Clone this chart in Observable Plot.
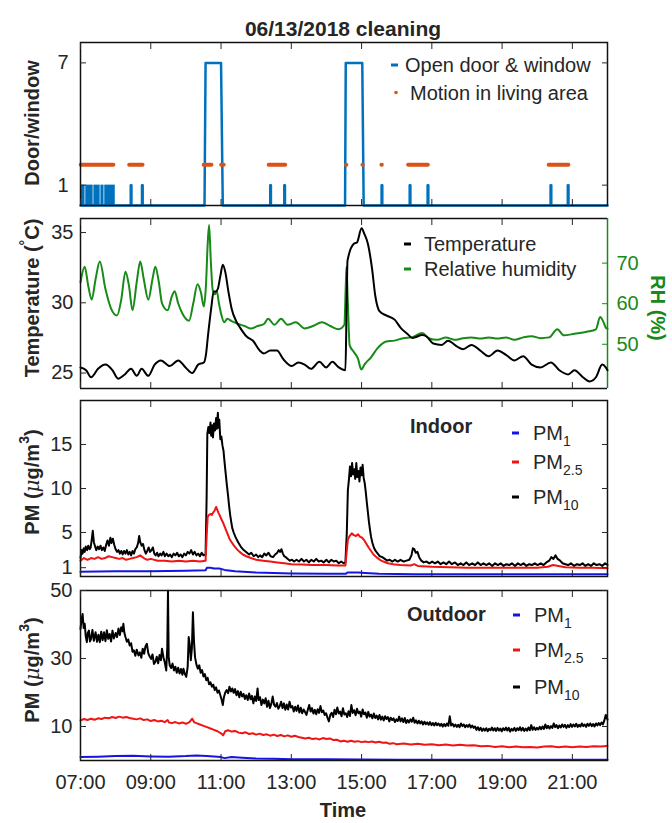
<!DOCTYPE html>
<html><head><meta charset="utf-8">
<script src="https://cdn.jsdelivr.net/npm/d3@7"></script>
<script src="https://cdn.jsdelivr.net/npm/@observablehq/plot@0.6"></script>
<style>
html,body{margin:0;padding:0;background:#fff;}
#chart{position:relative;width:672px;height:823px;font-family:"Liberation Sans",Arial,sans-serif;}
#chart svg{position:absolute;left:0;overflow:visible;}
</style></head><body><div id="chart"></div>
<script>
// ---------- data ----------
const timeTicks = [7, 9, 11, 13, 15, 17, 19, 21];
const timeLabels = ["07:00","09:00","11:00","13:00","15:00","17:00","19:00","21:00"];
const doorTicks = [1, 7];
const tempTicks = [25, 30, 35];
const rhTicks = [50, 60, 70];
const indoorTicks = [1, 5, 10, 15];
const outdoorTicks = [10, 30, 50];

// door/window: dense bursts of open/close (start, end, level)
const doorBursts = [[7.00,7.13,1],[7.15,7.36,1],[7.38,7.56,1],[7.58,7.67,1],[7.69,7.99,1]];
// single openings (rise start, rise end, fall start, fall end, level)
const doorPulses = [[8.43,8.43,8.45,8.45,1],[8.75,8.75,8.77,8.77,1],[10.53,10.56,11.00,11.05,7],
  [12.40,12.40,12.42,12.42,1],[12.80,12.80,12.82,12.82,1],[14.53,14.55,15.02,15.06,7],
  [15.57,15.57,15.59,15.59,1],[16.37,16.37,16.39,16.39,1],[16.88,16.88,16.90,16.90,1],
  [20.38,20.38,20.40,20.40,1],[20.87,20.87,20.89,20.89,1]];
const motionLevel = 2;
const motionRanges = [[7.02,7.95],[8.40,8.78],[10.52,10.74],[11.02,11.09],[12.37,12.84],
  [14.57,14.58],[15.04,15.05],[15.58,15.59],[16.34,16.90],[20.34,20.90]];

const temperature = [[7.00,25.4],[7.16,25.2],[7.30,24.7],[7.50,25.3],[7.71,25.6],[7.91,25.2],[8.07,24.6],[8.26,24.9],[8.44,25.3],[8.60,24.8],[8.74,25.3],[8.93,24.8],[9.11,25.6],[9.29,25.9],[9.54,25.5],[9.78,25.9],[9.99,25.4],[10.18,25.0],[10.35,25.6],[10.51,25.75],[10.57,26.3],[10.63,27.7],[10.72,29.6],[10.79,30.8],[10.85,30.8],[10.91,31.0],[10.98,31.9],[11.05,32.7],[11.12,32.2],[11.21,30.8],[11.30,29.6],[11.43,28.7],[11.55,28.2],[11.73,27.6],[11.91,27.3],[12.10,26.6],[12.22,26.4],[12.40,26.6],[12.59,26.6],[12.77,26.0],[13.01,25.5],[13.20,25.75],[13.38,25.6],[13.56,25.3],[13.80,25.8],[13.99,25.4],[14.17,25.8],[14.35,25.4],[14.54,25.2],[14.57,29.0],[14.60,33.0],[14.78,34.2],[14.87,34.3],[15.00,35.3],[15.08,34.9],[15.18,34.2],[15.30,32.4],[15.39,30.5],[15.51,29.4],[15.70,29.1],[15.94,28.8],[16.12,28.2],[16.30,27.8],[16.45,27.5],[16.73,27.7],[16.85,27.6],[17.04,27.1],[17.28,27.0],[17.46,27.3],[17.71,26.9],[17.89,26.7],[18.13,27.0],[18.38,26.6],[18.62,26.2],[18.87,26.6],[19.11,26.3],[19.35,25.9],[19.60,26.2],[19.84,25.6],[20.09,25.4],[20.39,25.75],[20.63,25.2],[20.88,24.9],[21.06,25.2],[21.30,24.7],[21.49,24.4],[21.67,24.7],[21.85,25.6],[21.95,25.4],[22.00,25.2]];

const humidity = [[7.00,65.3],[7.12,69.1],[7.22,64.4],[7.32,61.0],[7.43,66.1],[7.55,70.4],[7.71,63.6],[7.87,58.8],[8.04,57.1],[8.16,61.0],[8.28,67.9],[8.38,64.4],[8.48,58.4],[8.60,65.3],[8.70,70.4],[8.80,66.1],[8.93,61.0],[9.05,66.1],[9.13,69.1],[9.23,65.3],[9.32,60.1],[9.48,58.4],[9.60,61.8],[9.68,63.1],[9.78,60.1],[9.90,57.6],[10.09,55.8],[10.21,60.1],[10.33,64.8],[10.43,62.7],[10.51,59.3],[10.57,64.4],[10.62,74.7],[10.66,79.4],[10.71,70.4],[10.76,63.6],[10.82,62.3],[10.88,63.1],[10.94,60.1],[11.00,57.6],[11.09,55.4],[11.18,56.3],[11.30,55.7],[11.49,55.0],[11.67,54.5],[11.85,53.9],[12.04,54.5],[12.22,55.0],[12.34,56.3],[12.52,54.8],[12.71,56.3],[12.89,54.8],[13.13,55.4],[13.38,53.9],[13.62,54.5],[13.87,55.4],[14.11,54.5],[14.35,53.7],[14.51,54.8],[14.55,64.4],[14.57,69.1],[14.61,60.1],[14.66,49.8],[14.78,48.1],[14.90,46.4],[14.99,43.8],[15.09,45.1],[15.27,46.8],[15.45,49.0],[15.70,50.7],[15.94,50.9],[16.18,51.5],[16.43,51.7],[16.73,52.8],[16.91,51.5],[17.16,51.1],[17.40,51.7],[17.65,51.1],[17.89,51.5],[18.13,51.7],[18.38,51.4],[18.62,51.7],[18.87,51.4],[19.11,51.7],[19.35,51.1],[19.60,51.7],[19.84,52.0],[20.09,51.5],[20.34,51.7],[20.57,53.7],[20.76,52.2],[21.06,52.6],[21.41,53.1],[21.67,53.7],[21.79,56.7],[21.89,55.4],[21.95,54.1],[22.00,53.8]];

const indoorPM10 = [[7.00,2.1],[7.03,3.0],[7.06,2.6],[7.09,3.2],[7.12,2.8],[7.15,3.4],[7.19,3.0],[7.22,3.5],[7.26,3.1],[7.29,3.3],[7.32,4.2],[7.35,5.2],[7.38,3.9],[7.41,3.5],[7.45,3.0],[7.49,3.4],[7.53,3.1],[7.57,3.5],[7.61,3.0],[7.65,3.3],[7.69,2.9],[7.73,3.6],[7.77,4.1],[7.81,3.5],[7.85,4.4],[7.88,3.8],[7.92,4.3],[7.96,3.6],[8.00,3.1],[8.04,2.8],[8.08,3.0],[8.12,2.6],[8.16,2.9],[8.20,2.5],[8.24,2.9],[8.28,2.6],[8.32,3.0],[8.36,2.5],[8.40,2.8],[8.44,2.4],[8.48,2.9],[8.52,2.6],[8.56,3.1],[8.60,3.3],[8.64,3.8],[8.67,4.6],[8.70,3.9],[8.74,3.5],[8.78,3.7],[8.82,3.0],[8.86,2.6],[8.90,2.9],[8.94,3.3],[8.98,2.8],[9.02,3.0],[9.06,3.3],[9.10,2.6],[9.14,2.4],[9.18,2.7],[9.22,2.3],[9.27,2.6],[9.31,2.4],[9.36,2.8],[9.40,2.3],[9.45,2.6],[9.50,2.3],[9.55,2.5],[9.60,2.2],[9.65,2.6],[9.70,2.4],[9.75,2.7],[9.80,2.3],[9.85,2.5],[9.90,2.2],[9.95,2.6],[10.00,2.4],[10.05,2.8],[10.10,2.6],[10.15,3.0],[10.20,2.5],[10.25,2.8],[10.30,2.4],[10.35,2.6],[10.40,2.3],[10.45,2.7],[10.50,2.4],[10.56,2.5],[10.59,9.0],[10.61,16.2],[10.64,17.0],[10.67,16.3],[10.70,17.5],[10.72,16.0],[10.75,17.2],[10.77,15.8],[10.80,17.4],[10.83,16.6],[10.86,18.0],[10.88,16.8],[10.91,18.6],[10.93,16.9],[10.95,17.8],[10.98,15.6],[11.01,15.9],[11.04,14.9],[11.07,14.3],[11.10,13.0],[11.13,11.8],[11.16,10.6],[11.20,9.2],[11.23,8.0],[11.26,7.0],[11.29,6.2],[11.32,5.5],[11.36,5.0],[11.41,4.5],[11.46,4.1],[11.50,3.8],[11.56,3.4],[11.62,3.1],[11.68,2.9],[11.74,2.7],[11.80,2.5],[11.86,2.7],[11.93,2.3],[12.00,2.5],[12.06,2.2],[12.11,2.4],[12.17,2.2],[12.23,2.6],[12.29,2.4],[12.35,2.7],[12.41,2.3],[12.48,2.2],[12.54,2.5],[12.60,2.7],[12.64,3.0],[12.68,2.8],[12.72,3.1],[12.76,2.6],[12.80,2.3],[12.84,2.2],[12.90,2.0],[12.96,1.8],[13.02,1.9],[13.08,1.7],[13.15,1.9],[13.22,1.7],[13.29,2.0],[13.36,1.7],[13.43,1.9],[13.50,1.6],[13.57,1.9],[13.64,1.7],[13.71,2.0],[13.78,1.7],[13.85,1.8],[13.92,1.6],[14.00,1.9],[14.07,1.6],[14.14,1.9],[14.21,1.7],[14.28,1.8],[14.35,1.5],[14.42,1.7],[14.49,1.5],[14.54,1.6],[14.58,5.0],[14.61,9.8],[14.64,11.0],[14.67,12.5],[14.70,11.4],[14.73,12.9],[14.76,11.6],[14.79,12.2],[14.82,11.1],[14.85,12.9],[14.88,11.3],[14.91,12.0],[14.94,10.8],[14.97,12.4],[15.00,11.5],[15.03,12.7],[15.06,11.2],[15.09,10.6],[15.12,9.6],[15.15,8.4],[15.18,7.3],[15.21,6.2],[15.24,5.3],[15.27,4.5],[15.31,3.8],[15.35,3.3],[15.40,2.9],[15.46,2.6],[15.52,2.3],[15.59,2.2],[15.66,2.0],[15.73,1.8],[15.80,1.9],[15.88,1.7],[15.95,1.9],[16.03,1.7],[16.11,1.9],[16.20,1.7],[16.28,1.8],[16.36,1.9],[16.42,2.4],[16.46,3.2],[16.50,3.1],[16.54,2.7],[16.59,2.8],[16.64,2.2],[16.70,1.8],[16.77,1.6],[16.85,1.7],[16.93,1.5],[17.01,1.7],[17.09,1.5],[17.17,1.7],[17.25,1.4],[17.33,1.6],[17.41,1.4],[17.49,1.7],[17.57,1.4],[17.66,1.6],[17.74,1.3],[17.82,1.5],[17.90,1.3],[17.98,1.6],[18.06,1.3],[18.15,1.5],[18.23,1.3],[18.31,1.6],[18.39,1.3],[18.47,1.5],[18.55,1.3],[18.63,1.5],[18.72,1.2],[18.80,1.5],[18.88,1.3],[18.96,1.5],[19.04,1.2],[19.12,1.4],[19.20,1.3],[19.28,1.5],[19.37,1.2],[19.45,1.5],[19.53,1.3],[19.61,1.5],[19.69,1.2],[19.77,1.4],[19.85,1.3],[19.93,1.5],[20.01,1.3],[20.10,1.5],[20.18,1.3],[20.26,1.6],[20.34,1.8],[20.40,2.2],[20.46,2.0],[20.52,2.4],[20.58,2.0],[20.65,1.8],[20.72,1.5],[20.80,1.4],[20.88,1.3],[20.96,1.5],[21.05,1.2],[21.13,1.4],[21.21,1.3],[21.29,1.5],[21.37,1.2],[21.45,1.4],[21.53,1.2],[21.61,1.5],[21.69,1.3],[21.77,1.4],[21.85,1.2],[21.93,1.5],[22.00,1.3]];

const indoorPM25 = [[7.00,1.8],[7.10,2.1],[7.20,1.9],[7.30,2.1],[7.40,2.0],[7.50,2.2],[7.60,2.0],[7.70,2.1],[7.80,2.3],[7.90,2.2],[8.00,2.1],[8.10,2.0],[8.20,2.1],[8.30,1.9],[8.40,2.0],[8.50,2.1],[8.60,2.2],[8.70,2.4],[8.80,2.1],[8.90,1.9],[9.00,2.0],[9.20,1.8],[9.40,1.8],[9.60,1.7],[9.80,1.8],[10.00,1.7],[10.20,1.8],[10.40,1.7],[10.56,1.8],[10.59,4.5],[10.62,6.8],[10.66,7.0],[10.70,7.1],[10.74,7.0],[10.78,7.3],[10.82,7.5],[10.86,7.9],[10.89,7.6],[10.93,7.2],[10.97,6.9],[11.01,6.5],[11.06,6.1],[11.12,5.5],[11.18,4.9],[11.24,4.3],[11.30,3.9],[11.37,3.5],[11.45,3.1],[11.53,2.8],[11.62,2.5],[11.72,2.3],[11.85,2.1],[12.00,1.9],[12.20,1.8],[12.40,1.7],[12.60,1.6],[12.80,1.5],[13.00,1.4],[13.30,1.35],[13.60,1.3],[14.00,1.3],[14.30,1.25],[14.54,1.25],[14.58,3.0],[14.61,4.2],[14.66,4.6],[14.72,4.9],[14.78,4.7],[14.84,4.6],[14.90,4.8],[14.96,4.5],[15.02,4.4],[15.08,4.1],[15.14,3.7],[15.20,3.3],[15.27,2.9],[15.34,2.5],[15.42,2.2],[15.52,1.9],[15.62,1.7],[15.75,1.5],[15.90,1.4],[16.10,1.3],[16.40,1.25],[16.50,1.4],[16.60,1.2],[17.00,1.1],[17.50,1.05],[18.00,1.0],[18.50,1.0],[19.00,1.0],[19.50,1.0],[20.00,1.0],[20.30,1.1],[20.45,1.3],[20.60,1.2],[20.80,1.05],[21.20,1.0],[21.60,1.0],[22.00,0.95]];

const indoorPM1 = [[7.00,0.55],[8.00,0.6],[9.00,0.6],[10.00,0.65],[10.56,0.7],[10.60,1.0],[10.70,1.0],[10.80,0.9],[10.95,0.9],[11.10,0.75],[11.40,0.6],[12.00,0.45],[13.00,0.35],[14.00,0.3],[14.55,0.3],[14.60,0.45],[14.90,0.45],[15.10,0.4],[15.50,0.3],[16.50,0.25],[18.00,0.25],[20.00,0.25],[22.00,0.25]];

const outdoorPM10 = [[7.00,38.7],[7.03,41.5],[7.06,43.1],[7.09,39.0],[7.12,40.2],[7.15,36.5],[7.18,34.8],[7.21,37.6],[7.24,38.2],[7.27,35.0],[7.30,35.8],[7.34,38.4],[7.38,35.2],[7.43,37.7],[7.47,34.9],[7.51,37.0],[7.55,34.8],[7.59,37.9],[7.63,35.4],[7.67,37.7],[7.71,35.1],[7.75,38.3],[7.79,35.8],[7.83,37.2],[7.87,35.0],[7.91,38.2],[7.95,35.9],[8.00,37.5],[8.04,36.3],[8.08,38.8],[8.12,36.9],[8.16,39.2],[8.20,38.0],[8.22,40.2],[8.25,37.5],[8.28,36.3],[8.32,34.9],[8.36,35.6],[8.40,33.8],[8.44,34.5],[8.48,32.0],[8.52,32.4],[8.56,30.8],[8.60,32.6],[8.65,30.9],[8.69,31.8],[8.73,30.2],[8.77,32.9],[8.81,31.4],[8.85,33.6],[8.89,34.3],[8.93,31.5],[8.97,30.6],[9.01,29.9],[9.05,31.2],[9.09,28.4],[9.13,29.0],[9.17,30.5],[9.21,28.6],[9.25,31.0],[9.29,29.5],[9.32,32.9],[9.36,30.4],[9.40,28.8],[9.44,26.5],[9.47,33.3],[9.49,49.9],[9.51,30.4],[9.54,28.0],[9.58,27.2],[9.62,28.5],[9.66,26.5],[9.70,27.6],[9.74,25.8],[9.78,27.3],[9.82,25.6],[9.86,26.9],[9.90,25.2],[9.93,27.0],[9.97,25.5],[10.01,24.6],[10.05,27.5],[10.08,36.3],[10.11,34.0],[10.14,29.5],[10.17,33.0],[10.20,43.6],[10.23,35.0],[10.26,30.4],[10.30,28.2],[10.34,27.0],[10.38,28.0],[10.42,25.8],[10.46,26.6],[10.50,24.7],[10.54,25.4],[10.58,23.6],[10.62,24.3],[10.66,22.4],[10.70,23.0],[10.74,21.7],[10.78,22.3],[10.82,20.7],[10.86,21.5],[10.90,19.9],[10.94,20.6],[10.98,19.2],[11.02,17.8],[11.05,16.3],[11.08,18.5],[11.12,20.0],[11.16,20.7],[11.20,19.8],[11.24,21.7],[11.28,20.3],[11.32,21.2],[11.36,19.9],[11.40,21.0],[11.44,19.2],[11.48,20.4],[11.52,18.6],[11.56,20.2],[11.60,18.8],[11.64,19.6],[11.68,18.1],[11.72,19.2],[11.76,17.8],[11.80,19.7],[11.84,18.0],[11.88,19.0],[11.92,16.8],[11.96,18.8],[12.00,17.5],[12.04,21.2],[12.07,17.8],[12.11,18.6],[12.15,16.3],[12.19,17.9],[12.23,16.8],[12.27,18.3],[12.31,15.8],[12.35,17.6],[12.39,15.4],[12.43,16.6],[12.47,18.8],[12.51,16.4],[12.55,15.8],[12.59,16.9],[12.63,15.2],[12.67,16.0],[12.71,17.3],[12.75,15.4],[12.79,16.8],[12.83,14.9],[12.87,16.5],[12.91,15.0],[12.95,17.3],[12.99,15.6],[13.03,16.0],[13.07,14.4],[13.11,15.8],[13.15,14.6],[13.19,16.2],[13.23,14.1],[13.27,15.5],[13.31,13.9],[13.35,15.0],[13.39,14.3],[13.43,13.4],[13.47,14.9],[13.51,16.3],[13.55,14.4],[13.59,15.4],[13.63,13.8],[13.67,14.9],[13.71,13.6],[13.75,15.1],[13.79,14.0],[13.83,16.0],[13.87,14.2],[13.91,14.7],[13.95,13.4],[13.99,13.9],[14.03,12.6],[14.07,11.5],[14.11,13.4],[14.15,14.0],[14.19,12.8],[14.23,14.9],[14.27,13.6],[14.31,15.6],[14.35,13.8],[14.39,14.4],[14.43,13.0],[14.47,15.4],[14.51,13.5],[14.55,13.9],[14.59,12.8],[14.63,14.5],[14.67,13.1],[14.71,16.3],[14.75,14.0],[14.79,14.8],[14.83,13.3],[14.87,15.2],[14.91,13.9],[14.95,14.4],[14.99,12.9],[15.03,15.0],[15.07,13.6],[15.11,14.1],[15.15,12.6],[15.19,14.3],[15.23,12.9],[15.27,13.5],[15.31,12.4],[15.35,13.8],[15.39,12.5],[15.43,13.2],[15.47,12.1],[15.51,13.4],[15.55,12.0],[15.59,12.9],[15.63,11.8],[15.67,13.0],[15.71,12.2],[15.75,12.8],[15.79,11.5],[15.83,12.6],[15.87,11.9],[15.91,12.4],[15.95,11.3],[15.99,12.1],[16.03,11.6],[16.07,12.9],[16.11,11.5],[16.15,12.4],[16.19,11.3],[16.23,12.5],[16.27,11.0],[16.31,11.9],[16.35,11.2],[16.39,12.1],[16.43,11.4],[16.47,12.6],[16.51,11.1],[16.55,11.8],[16.59,10.9],[16.63,11.7],[16.67,10.9],[16.71,11.5],[16.75,10.6],[16.79,11.4],[16.83,10.7],[16.87,11.2],[16.91,10.5],[16.95,11.3],[16.99,10.4],[17.03,11.0],[17.07,10.3],[17.11,11.1],[17.15,10.4],[17.19,10.9],[17.23,10.2],[17.27,10.8],[17.31,10.0],[17.35,10.7],[17.39,10.1],[17.43,10.9],[17.47,10.2],[17.51,13.0],[17.55,10.3],[17.59,10.8],[17.63,10.0],[17.67,10.6],[17.71,9.9],[17.75,10.5],[17.79,9.8],[17.83,10.9],[17.87,10.1],[17.91,10.6],[17.95,9.8],[17.99,10.4],[18.03,9.9],[18.07,10.6],[18.11,9.7],[18.15,10.3],[18.19,9.6],[18.23,10.0],[18.27,9.0],[18.31,9.8],[18.35,8.9],[18.39,9.6],[18.43,8.7],[18.47,9.4],[18.51,8.8],[18.55,9.5],[18.59,8.6],[18.63,9.3],[18.67,8.9],[18.71,9.7],[18.75,8.8],[18.79,9.5],[18.83,8.7],[18.87,9.6],[18.91,8.8],[18.95,9.4],[18.99,8.6],[19.03,9.5],[19.07,8.9],[19.11,9.7],[19.15,8.8],[19.19,9.6],[19.23,8.5],[19.27,9.3],[19.31,8.8],[19.35,9.6],[19.39,8.7],[19.43,9.5],[19.47,8.9],[19.51,9.8],[19.55,8.8],[19.59,9.6],[19.63,8.7],[19.67,9.4],[19.71,8.8],[19.75,9.7],[19.79,8.9],[19.83,10.4],[19.87,9.0],[19.91,9.8],[19.95,9.0],[19.99,9.6],[20.03,9.1],[20.07,9.9],[20.11,9.2],[20.15,10.0],[20.19,9.3],[20.23,10.6],[20.27,9.5],[20.31,10.2],[20.35,9.4],[20.39,10.1],[20.43,9.6],[20.47,10.9],[20.51,9.8],[20.55,10.4],[20.59,9.5],[20.63,10.3],[20.67,9.7],[20.71,10.6],[20.75,9.9],[20.79,10.5],[20.83,9.6],[20.87,10.4],[20.91,9.8],[20.95,10.7],[20.99,9.9],[21.03,10.6],[21.07,10.0],[21.11,10.8],[21.15,9.9],[21.19,10.5],[21.23,10.0],[21.27,10.9],[21.31,10.1],[21.35,10.6],[21.39,9.9],[21.43,10.8],[21.47,10.2],[21.51,10.9],[21.55,10.1],[21.59,10.7],[21.63,10.0],[21.67,10.9],[21.71,10.3],[21.75,11.0],[21.79,10.4],[21.83,11.2],[21.87,10.6],[21.91,11.8],[21.95,13.4],[22.00,12.0]];

const outdoorPM25 = [[7.00,11.8],[7.10,12.2],[7.20,11.9],[7.30,12.3],[7.40,12.0],[7.50,12.4],[7.60,12.2],[7.70,12.6],[7.80,12.4],[7.90,12.8],[8.00,12.5],[8.10,12.9],[8.20,12.6],[8.30,12.8],[8.40,12.5],[8.50,12.3],[8.60,12.1],[8.70,12.4],[8.80,11.9],[8.90,12.1],[9.00,11.6],[9.10,11.9],[9.20,11.5],[9.30,11.7],[9.40,11.3],[9.48,11.9],[9.52,11.2],[9.60,11.0],[9.70,11.3],[9.80,10.9],[9.90,11.2],[10.00,10.8],[10.10,11.3],[10.18,12.3],[10.24,11.2],[10.30,11.0],[10.40,10.6],[10.50,10.2],[10.60,9.8],[10.70,9.4],[10.80,9.0],[10.90,8.6],[11.00,8.0],[11.06,7.4],[11.12,8.6],[11.20,8.9],[11.30,8.5],[11.40,8.7],[11.50,8.2],[11.60,8.0],[11.70,8.3],[11.80,7.8],[11.90,8.0],[12.00,7.6],[12.10,7.9],[12.20,7.5],[12.30,7.7],[12.40,7.3],[12.50,7.6],[12.60,7.2],[12.70,7.5],[12.80,7.1],[12.90,7.4],[13.00,7.0],[13.10,7.3],[13.20,6.9],[13.30,6.7],[13.40,6.5],[13.50,6.7],[13.60,6.3],[13.70,6.5],[13.80,6.2],[13.90,6.6],[14.00,6.3],[14.10,6.5],[14.20,6.0],[14.30,6.1],[14.40,5.6],[14.50,5.8],[14.60,5.5],[14.70,5.8],[14.80,5.5],[14.90,5.7],[15.00,5.4],[15.10,5.6],[15.20,5.4],[15.30,5.6],[15.40,5.3],[15.50,5.5],[15.60,5.2],[15.70,5.3],[15.80,4.9],[15.90,5.1],[16.00,4.8],[16.20,5.0],[16.40,4.7],[16.60,4.9],[16.80,4.6],[17.00,4.8],[17.20,4.5],[17.40,4.7],[17.60,4.4],[17.80,4.6],[18.00,4.4],[18.20,4.5],[18.40,4.2],[18.60,4.3],[18.80,4.0],[19.00,4.2],[19.20,3.9],[19.40,4.1],[19.60,3.9],[19.80,4.0],[20.00,3.8],[20.20,4.1],[20.40,4.2],[20.60,3.9],[20.80,4.1],[21.00,3.9],[21.20,4.1],[21.40,4.0],[21.60,4.2],[21.80,4.1],[22.00,4.3]];

const outdoorPM1 = [[7.00,1.0],[7.50,1.1],[8.00,1.3],[8.50,1.4],[9.00,1.2],[9.50,1.1],[10.00,1.3],[10.30,1.5],[10.60,1.3],[11.00,1.0],[11.10,0.7],[11.30,1.0],[11.60,0.8],[12.00,0.6],[12.50,0.5],[13.00,0.4],[14.00,0.35],[15.00,0.3],[16.00,0.25],[18.00,0.2],[20.00,0.2],[22.00,0.2]];

// ---------- drawing ----------
const chart = document.getElementById("chart");
const FONT = "'Liberation Sans', Arial, Helvetica, sans-serif";
const INK = "#262626";
const BLUE = "#0072BD", ORANGE = "#D95319", GREEN = "#178a17";
const PMBLUE = "#1414e6", PMRED = "#f01414";
const L = 80, R = 607;
const X = d => d[0], Y = d => d[1];
const tlabel = d => timeLabels[timeTicks.indexOf(d)];

function panel(top, bottom, yDomain, marks, mb = 2, hideX = false) {
  const svg = Plot.plot({
    width: 672, height: (bottom - top) + 2 + mb,
    marginTop: 2, marginBottom: mb, marginLeft: L, marginRight: 672 - R,
    x: {domain: [7, 22], axis: hideX ? null : undefined}, y: {domain: yDomain},
    style: {fontFamily: FONT, fontSize: "20px", background: "transparent", overflow: "visible", color: INK},
    marks
  });
  svg.style.top = (top - 2) + "px";
  chart.append(svg);
  return svg;
}
const xTop = () => Plot.axisX(timeTicks, {anchor: "top", tickSize: -6, tickFormat: () => "", label: null, stroke: INK});
const xBottom = (labels) => Plot.axisX(timeTicks, {anchor: "bottom", tickSize: -6, tickPadding: 20, tickFormat: labels ? tlabel : () => "", label: null, stroke: INK, fill: INK});
const yLeft = (ticks, pad) => Plot.axisY(ticks, {anchor: "left", tickSize: -6, tickPadding: pad, label: null, stroke: INK, fill: INK});
const yRight = (ticks) => Plot.axisY(ticks, {anchor: "right", tickSize: -6, tickFormat: () => "", label: null, stroke: INK});

// door lines built from pulses
const doorLine = [[7, 0]];
for (const [a, b, c, d, lvl] of doorPulses) doorLine.push([a, 0], [b, lvl], [c, lvl], [d, 0]);
doorLine.push([22, 0]);

// Panel 1
panel(42, 205, [0, 8], [
  Plot.rectY(doorBursts, {x1: d => d[0], x2: d => d[1], y1: 0, y2: d => d[2], fill: BLUE, inset: 0}),
  Plot.line(doorLine, {x: X, y: Y, stroke: BLUE, strokeWidth: 2.5}),
  Plot.ruleY(motionRanges, {x1: d => d[0], x2: d => d[1], y: () => motionLevel, stroke: ORANGE, strokeWidth: 4, strokeLinecap: "round"}),
  Plot.frame({stroke: "#111", strokeWidth: 1.5}),
  xTop(), xBottom(false), yLeft(doorTicks, 18), yRight(doorTicks)
]);

// Panel 2 (RH layer underneath, right axis green)
panel(218, 388, [39.1, 81], [
  Plot.line(humidity, {x: X, y: Y, stroke: GREEN, strokeWidth: 2, curve: "monotone-x"}),
  Plot.axisY(rhTicks, {anchor: "right", tickSize: -6, tickPadding: 15, label: null, stroke: GREEN, fill: GREEN}),
  Plot.ruleX([22], {stroke: GREEN, strokeWidth: 1.5})
], 2, true);
panel(218, 388, [23.9, 36.0], [
  Plot.line(temperature, {x: X, y: Y, stroke: "#000", strokeWidth: 2, curve: "monotone-x"}),
  Plot.ruleX([7], {stroke: "#111", strokeWidth: 1.5}),
  Plot.ruleY([23.9, 36.0], {stroke: "#111", strokeWidth: 1.5}),
  xTop(), xBottom(false), yLeft(tempTicks, 13)
]);

// Panel 3 (indoor)
panel(400, 576, [0, 20], [
  Plot.line(indoorPM10, {x: X, y: Y, stroke: "#000", strokeWidth: 2}),
  Plot.line(indoorPM25, {x: X, y: Y, stroke: PMRED, strokeWidth: 2}),
  Plot.line(indoorPM1, {x: X, y: Y, stroke: PMBLUE, strokeWidth: 2}),
  Plot.frame({stroke: "#111", strokeWidth: 1.5}),
  xTop(), xBottom(false), yLeft(indoorTicks, 14), yRight(indoorTicks)
]);

// Panel 4 (outdoor)
panel(590, 760, [0, 50], [
  Plot.line(outdoorPM10, {x: X, y: Y, stroke: "#000", strokeWidth: 2}),
  Plot.line(outdoorPM25, {x: X, y: Y, stroke: PMRED, strokeWidth: 2}),
  Plot.line(outdoorPM1, {x: X, y: Y, stroke: PMBLUE, strokeWidth: 2}),
  Plot.frame({stroke: "#111", strokeWidth: 1.5}),
  xTop(), xBottom(true), yLeft(outdoorTicks, 14), yRight(outdoorTicks)
], 62);

// ---------- titles, axis labels, legends ----------
const ov = d3.create("svg").attr("width", 672).attr("height", 823)
  .style("top", "0px").style("pointer-events", "none")
  .attr("font-family", FONT).attr("fill", INK);

function txt(x, y, s, opts = {}) {
  const t = ov.append("text").attr("x", x).attr("y", y).attr("dominant-baseline", "central")
    .attr("font-size", opts.size || 20).attr("font-weight", opts.bold ? "bold" : null)
    .attr("text-anchor", opts.anchor || "start").attr("fill", opts.fill || INK);
  if (opts.rotate) t.attr("transform", `rotate(${opts.rotate},${x},${y})`);
  if (s !== null) t.text(s);
  return t;
}
function dash(x, y, color) {
  ov.append("line").attr("x1", x).attr("x2", x + 7).attr("y1", y).attr("y2", y)
    .attr("stroke", color).attr("stroke-width", 3);
}
function pmItem(x, y, sub, color) {
  dash(x, y, color);
  const t = txt(x + 21, y, null);
  t.append("tspan").text("PM");
  t.append("tspan").attr("font-size", 14).attr("dy", 8).text(sub);
}

txt(343, 28, "06/13/2018 cleaning", {bold: true, anchor: "middle", size: 21});

// y-axis labels
txt(32, 123, "Door/window", {bold: true, anchor: "middle", rotate: -90});
{
  const t = txt(32, 298, null, {bold: true, anchor: "middle", rotate: -90});
  t.append("tspan").text("Temperature (");
  t.append("tspan").attr("font-size", 14).attr("dy", -7).text("°");
  t.append("tspan").attr("dy", 7).text("C)");
}
function pmLabel(y) {
  const t = txt(32, y, null, {bold: true, anchor: "middle", rotate: -90});
  t.append("tspan").text("PM (");
  t.append("tspan").attr("font-style", "italic").attr("font-weight", "normal").attr("font-family", "'DejaVu Serif', serif").text("μ");
  t.append("tspan").text("g/m");
  t.append("tspan").attr("font-size", 14).attr("dy", -8).text("3");
  t.append("tspan").attr("dy", 8).text(")");
}
pmLabel(482);
pmLabel(670);
txt(658, 308, "RH (%)", {bold: true, anchor: "middle", rotate: 90, fill: GREEN});
txt(343, 810, "Time", {bold: true, anchor: "middle"});

// legend panel 1
dash(391, 65, BLUE);
txt(405, 65, "Open door & window");
ov.append("circle").attr("cx", 396).attr("cy", 92.5).attr("r", 1.8).attr("fill", ORANGE);
txt(410, 93, "Motion in living area");

// legend panel 2
dash(404, 244, "#000");
txt(424, 244, "Temperature");
dash(404, 269, GREEN);
txt(424, 269, "Relative humidity");

// legend panel 3
txt(410, 426, "Indoor", {bold: true});
pmItem(512, 433, "1", PMBLUE);
pmItem(512, 462, "2.5", PMRED);
pmItem(512, 497, "10", "#000");

// legend panel 4
txt(407, 614, "Outdoor", {bold: true});
pmItem(513, 615, "1", PMBLUE);
pmItem(513, 650, "2.5", PMRED);
pmItem(513, 687, "10", "#000");

chart.append(ov.node());
</script>
</body></html>
